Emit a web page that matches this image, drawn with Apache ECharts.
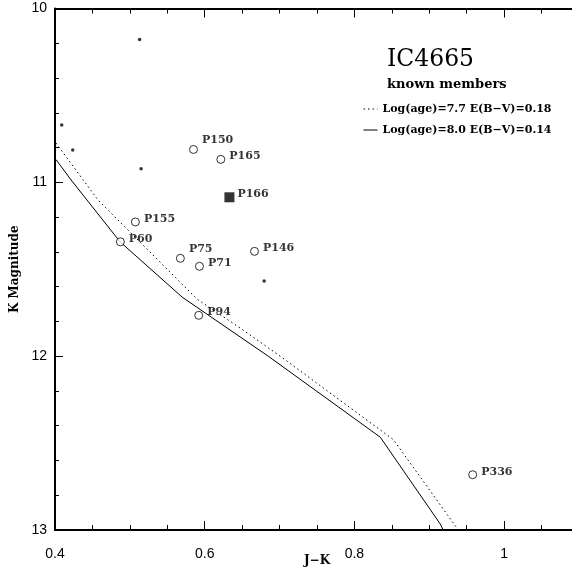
<!DOCTYPE html>
<html>
<head>
<meta charset="utf-8">
<script src="https://cdn.jsdelivr.net/npm/echarts@6/dist/echarts.min.js"></script>
<style>
  html, body { margin: 0; padding: 0; background: #fff; }
  #chart { width: 572px; height: 569px; }
</style>
</head>
<body>
<div id="chart"></div>
<script>
// Isochrone log(age)=7.7, E(B-V)=0.18
const isoYoungJK = [0.4013, 0.4575, 0.503, 0.5898, 0.6473, 0.7008, 0.852, 0.9388];
const isoYoungK  = [10.774, 11.102, 11.298, 11.672, 11.838, 12.0, 12.48, 13.0];
// Isochrone log(age)=8.0, E(B-V)=0.14
const isoOldJK = [0.4013, 0.4227, 0.4869, 0.5698, 0.6848, 0.8345, 0.9147, 0.920];
const isoOldK  = [10.869, 10.993, 11.342, 11.660, 12.0, 12.466, 12.966, 13.012];

// Known members (open circles)
const memberNames = ['P150', 'P165', 'P155', 'P60', 'P75', 'P71', 'P146', 'P94', 'P336'];
const memberJK    = [0.5850, 0.6215, 0.5074, 0.4873, 0.5675, 0.5930, 0.6665, 0.5920, 0.9580];
const memberK     = [10.811, 10.868, 11.228, 11.342, 11.437, 11.483, 11.397, 11.765, 12.682];

// Filled square
const squareNames = ['P166'];
const squareJK    = [0.633];
const squareK     = [11.086];

// Unlabelled stars (small dots)
const dotJK = [0.5130, 0.4090, 0.4237, 0.5150, 0.6794];
const dotK  = [10.178, 10.670, 10.814, 10.922, 11.568];

const xTicks = { min: 0.4, max: 1.1, interval: 0.2 };
const yTicks = { min: 10, max: 13, interval: 1 };

const legendYoung = 'Log(age)=7.7 E(B\u2212V)=0.18';
const legendOld   = 'Log(age)=8.0 E(B\u2212V)=0.14';

const serif = 'DejaVu Serif';
const sans = 'Liberation Sans';

const zip = (a, b) => a.map((v, i) => [v, b[i]]);
const raisedLabels = { P150: true, P75: true };

const chart = echarts.init(document.getElementById('chart'), null, { renderer: 'canvas' });

const axisCommon = {
  min: xTicks.min, max: xTicks.max, interval: xTicks.interval,
  axisLine: { show: true, onZero: false, lineStyle: { color: '#000', width: 2 } },
  axisTick: { show: true, inside: true, length: 9, lineStyle: { color: '#000', width: 1 } },
  minorTick: { show: true, splitNumber: 4, length: 5, lineStyle: { color: '#000', width: 1 } },
  splitLine: { show: false },
  minorSplitLine: { show: false }
};

chart.setOption({
  backgroundColor: '#fff',
  animation: false,
  title: {
    text: 'IC4665',
    subtext: 'known members',
    left: 382,
    top: 43,
    itemGap: 6,
    textStyle: { fontFamily: serif, fontSize: 23.5, fontWeight: 'normal', color: '#000' },
    subtextStyle: { fontFamily: serif, fontSize: 13, fontWeight: 'bold', color: '#000' }
  },
  legend: {
    data: [legendYoung, legendOld],
    orient: 'vertical',
    left: 358,
    top: 98.5,
    itemWidth: 14,
    itemHeight: 12,
    itemGap: 10,
    itemStyle: { color: 'rgba(0,0,0,0)', borderWidth: 0, opacity: 0 },
    lineStyle: { width: 1 },
    textStyle: { fontFamily: serif, fontSize: 11, fontWeight: 'bold', color: '#000' },
    selectedMode: false
  },
  grid: { left: 55, top: 8.5, right: -7, bottom: 39, containLabel: false, outerBoundsMode: 'none' },
  xAxis: [
    Object.assign({}, axisCommon, {
      type: 'value',
      position: 'bottom',
      name: 'J\u2212K',
      nameLocation: 'middle',
      nameGap: 25,
      nameMoveOverlap: false,
      nameTextStyle: { fontFamily: serif, fontSize: 12, fontWeight: 'bold', color: '#000' },
      axisLabel: { show: true, showMaxLabel: false, margin: 17, fontFamily: sans, fontSize: 14, color: '#000' }
    }),
    Object.assign({}, axisCommon, {
      type: 'value',
      position: 'top',
      axisLabel: { show: false }
    })
  ],
  yAxis: [{
    type: 'value',
    inverse: true,
    min: yTicks.min, max: yTicks.max, interval: yTicks.interval,
    name: 'K Magnitude',
    nameLocation: 'middle',
    nameGap: 34,
    nameTextStyle: { fontFamily: serif, fontSize: 12, fontWeight: 'bold', color: '#000' },
    axisLine: { show: true, onZero: false, lineStyle: { color: '#000', width: 2 } },
    axisTick: { show: true, inside: true, length: 8, lineStyle: { color: '#000', width: 1 } },
    minorTick: { show: true, splitNumber: 5, length: 4, lineStyle: { color: '#000', width: 1 } },
    axisLabel: { show: true, margin: 8, padding: [5, 0, 0, 0], fontFamily: sans, fontSize: 14, color: '#000' },
    splitLine: { show: false },
    minorSplitLine: { show: false }
  }],
  series: [
    {
      name: legendYoung,
      type: 'line',
      data: zip(isoYoungJK, isoYoungK),
      symbol: 'none',
      clip: true,
      lineStyle: { color: '#000', width: 1, type: [1.5, 3] },
      itemStyle: { color: '#000' }
    },
    {
      name: legendOld,
      type: 'line',
      data: zip(isoOldJK, isoOldK),
      symbol: 'none',
      clip: true,
      lineStyle: { color: '#000', width: 1, type: 'solid' },
      itemStyle: { color: '#000' }
    },
    {
      name: 'members',
      type: 'scatter',
      symbol: 'circle',
      symbolSize: 8,
      itemStyle: { color: '#fff', borderColor: '#000', borderWidth: 1 },
      data: memberNames.map((n, i) => ({
        name: n,
        value: [memberJK[i], memberK[i]],
        label: { offset: [0, raisedLabels[n] ? -9 : -3] }
      })),
      label: {
        show: true, position: 'right', distance: 4,
        formatter: p => p.name,
        fontFamily: serif, fontSize: 11, fontWeight: 'bold', color: '#000'
      },
      z: 5
    },
    {
      name: 'square',
      type: 'scatter',
      symbol: 'rect',
      symbolSize: 10,
      itemStyle: { color: '#000' },
      data: squareNames.map((n, i) => ({ name: n, value: [squareJK[i], squareK[i]] })),
      label: {
        show: true, position: 'right', distance: 3, offset: [0, -3],
        formatter: p => p.name,
        fontFamily: serif, fontSize: 11, fontWeight: 'bold', color: '#000'
      },
      z: 5
    },
    {
      name: 'dots',
      type: 'scatter',
      symbol: 'circle',
      symbolSize: 3.5,
      itemStyle: { color: '#000' },
      data: zip(dotJK, dotK),
      z: 5
    }
  ]
});
</script>
</body>
</html>
